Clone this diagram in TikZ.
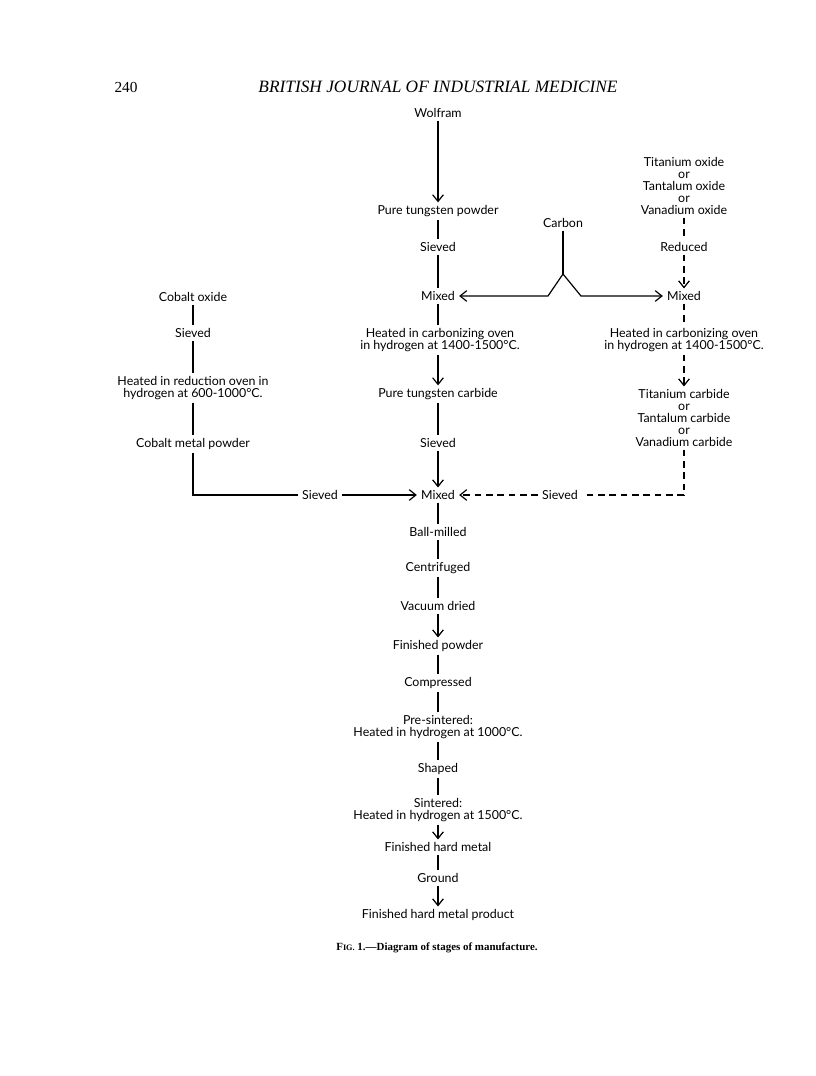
\documentclass[tikz,border=0pt]{standalone}
\usepackage{fontspec}
\setmainfont{Liberation Serif}
\newfontfamily\stagefont{Lato}
\usetikzlibrary{arrows.meta,positioning}
\tikzset{
    % Stage label
    stagenode/.style={
        align=center,
        inner xsep=3pt,
        inner ysep=2pt,
        font=\stagefont\fontsize{9.3}{9}\selectfont
    },
    % Running head
    headnode/.style={
        inner sep=0pt,
        font=\fontsize{11.5}{12}\selectfont
    },
    % Plain connector
    flowline/.style={
        line width=0.9pt,
        draw=black
    },
    % Connector with tip
    flowarrow/.style={
        ->,
        >={Straight Barb[length=5pt,width=8pt,line width=0.9pt]},
        line width=0.9pt,
        draw=black
    },
    % Dashed connector
    dashline/.style={
        flowline,
        dash pattern=on 5pt off 3.5pt
    },
    % Dashed connector with tip
    dasharrow/.style={
        flowarrow,
        dash pattern=on 5pt off 3.5pt
    }
}
\begin{document}
\begin{tikzpicture}[x=0.75pt,y=-0.75pt]
        \useasboundingbox (0,0) rectangle (816,1076);

        % Running head
        \node[headnode] (pagenum) at (126,87) {240};
        \node[headnode,font=\itshape\fontsize{13}{13}\selectfont] (journal) at (438,87) {BRITISH JOURNAL OF INDUSTRIAL MEDICINE};

        % Tungsten column
        \node[stagenode] (wolfram) at (438,113) {Wolfram};
        \node[stagenode] (wpowder) at (438,211) {Pure tungsten powder};
        \node[stagenode] (wsieved) at (438,247) {Sieved};
        \node[stagenode] (wmixed) at (438,296) {Mixed};
        \node[stagenode] (wheated) at (440,340) {Heated in carbonizing oven\\in hydrogen at 1400-1500°C.};
        \node[stagenode] (wcarbide) at (438,394) {Pure tungsten carbide};
        \node[stagenode] (csieved) at (438,443) {Sieved};
        \node[stagenode] (mixed) at (438,495) {Mixed};
        \node[stagenode] (ballmilled) at (438,532) {Ball-milled};
        \node[stagenode] (centrifuged) at (438,568) {Centrifuged};
        \node[stagenode] (vacuum) at (438,606) {Vacuum dried};
        \node[stagenode] (fpowder) at (438,646) {Finished powder};
        \node[stagenode] (compressed) at (438,683) {Compressed};
        \node[stagenode] (presintered) at (438,727) {Pre-sintered:\\Heated in hydrogen at 1000°C.};
        \node[stagenode] (shaped) at (438,769) {Shaped};
        \node[stagenode] (sintered) at (438,810) {Sintered:\\Heated in hydrogen at 1500°C.};
        \node[stagenode] (fmetal) at (438,847) {Finished hard metal};
        \node[stagenode] (ground) at (438,878) {Ground};
        \node[stagenode] (product) at (438,915) {Finished hard metal product};

        % Oxide column
        \node[stagenode] (oxides) at (684,186) {Titanium oxide\\or\\Tantalum oxide\\or\\Vanadium oxide};
        \node[stagenode] (reduced) at (684,247) {Reduced};
        \node[stagenode] (rmixed) at (684,296) {Mixed};
        \node[stagenode] (rheated) at (684,340) {Heated in carbonizing oven\\in hydrogen at 1400-1500°C.};
        \node[stagenode] (rcarbide) at (684,418) {Titanium carbide\\or\\Tantalum carbide\\or\\Vanadium carbide};

        % Cobalt column
        \node[stagenode] (cobox) at (193,297) {Cobalt oxide};
        \node[stagenode] (lsieved) at (193,333) {Sieved};
        \node[stagenode] (lheated) at (193,388) {Heated in reduction oven in\\hydrogen at 600-1000°C.};
        \node[stagenode] (cobmetal) at (193,444) {Cobalt metal powder};

        % Carbon feed
        \node[stagenode] (carbon) at (563,223) {Carbon};
        \coordinate (apex) at (563,274);
        \coordinate (cleft) at (548,296);
        \coordinate (cright) at (581,296);

        % Side feeds into the main mix
        \coordinate (lcorner) at (193,495);
        \coordinate (rcorner) at (684,495);
        \node[stagenode] (sievL) at (320,495) {Sieved};
        \node[stagenode] (sievR) at (560,495) {Sieved};

        % Caption
        \node[font=\bfseries\fontsize{8.2}{8.2}\selectfont] (caption) at (437,948) {F{\fontsize{6.2}{6.2}\selectfont IG.} 1.---Diagram of stages of manufacture.};

        % Arrows
        \draw[flowarrow] (wolfram) -- (wpowder);
        \draw[flowline] (wpowder) -- (wsieved);
        \draw[flowline] (wsieved) -- (wmixed);
        \draw[flowline] (wmixed) -- (wheated.north -| wmixed);
        \draw[flowarrow] (wheated.south -| wcarbide) -- (wcarbide);
        \draw[flowline] (wcarbide) -- (csieved);
        \draw[flowarrow] (csieved) -- (mixed);
        \draw[flowline] (mixed) -- (ballmilled);
        \draw[flowline] (ballmilled) -- (centrifuged);
        \draw[flowline] (centrifuged) -- (vacuum);
        \draw[flowarrow] (vacuum) -- (fpowder);
        \draw[flowline] (fpowder) -- (compressed);
        \draw[flowline] (compressed) -- (presintered);
        \draw[flowline] (presintered) -- (shaped);
        \draw[flowline] (shaped) -- (sintered);
        \draw[flowarrow] (sintered) -- (fmetal);
        \draw[flowline] (fmetal) -- (ground);
        \draw[flowarrow] (ground) -- (product);

        \draw[dashline] (oxides) -- (reduced);
        \draw[dasharrow] (reduced) -- (rmixed);
        \draw[dashline] (rmixed) -- (rheated);
        \draw[dasharrow] (rheated) -- (rcarbide);

        \draw[flowline] (cobox) -- (lsieved);
        \draw[flowline] (lsieved) -- (lheated);
        \draw[flowline] (lheated) -- (cobmetal);

        \draw[flowline] (carbon) -- (apex);
        \draw[flowarrow] (apex) -- (cleft) -- (wmixed);
        \draw[flowarrow] (apex) -- (cright) -- (rmixed);

        \draw[flowline] (cobmetal) -- (lcorner) -- (sievL);
        \draw[flowarrow] (sievL) -- (mixed);
        \draw[dashline] (rcarbide) -- (rcorner) -- (sievR);
        \draw[dasharrow] (sievR) -- (mixed);
    \end{tikzpicture}
\end{document}
